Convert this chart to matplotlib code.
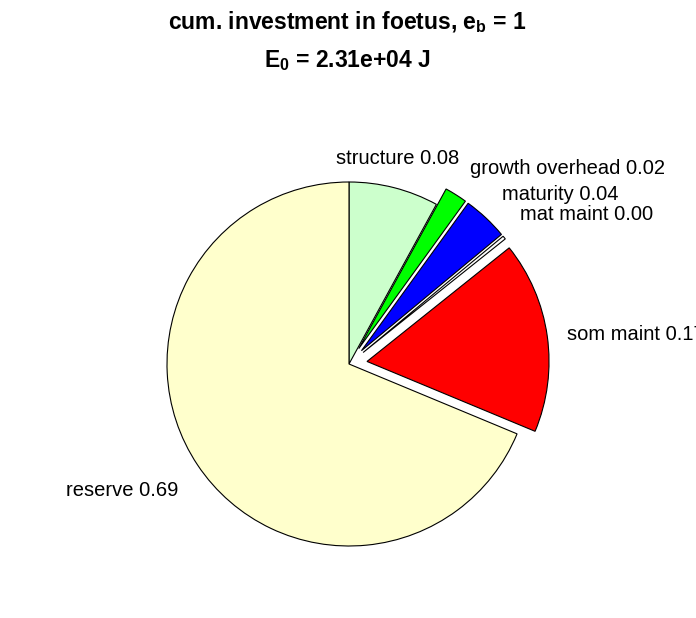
import matplotlib
matplotlib.use("Agg")
import matplotlib.pyplot as plt

# ---- data ----
names = ["structure", "growth overhead", "maturity", "mat maint", "som maint", "reserve"]
fractions = [0.0797, 0.0200, 0.0400, 0.0030, 0.1700, 0.6873]
title_line1 = r"cum. investment in foetus, e$_{\rm b}$ = 1"
title_line2 = r"E$_{\rm 0}$ = 2.31e+04 J"

# ---- styles / layout ----
colors = ["#CCFFCC", "#00FF00", "#0000FF", "#FFFFFF", "#FF0000", "#FFFFCC"]
explode = [0, 0.1, 0.1, 0.1, 0.1, 0]
# label anchor positions (pixels in figure) and alignment
label_px = [(398, 158), (567, 168), (560, 194), (587, 215), (567, 335), (122, 491)]
label_ha = ["center", "center", "center", "center", "left", "center"]

plt.rcParams["font.family"] = ["Liberation Sans", "DejaVu Sans"]
plt.rcParams["mathtext.fontset"] = "custom"
plt.rcParams["mathtext.rm"] = "Liberation Sans:bold"
plt.rcParams["mathtext.bf"] = "Liberation Sans:bold"

W, H = 696, 618
cx, cy, R = 349, 364, 182
fig = plt.figure(figsize=(W / 100, H / 100), dpi=100)
ax = fig.add_axes([0, 0, 1, 1])

ax.pie(fractions, colors=colors, explode=explode, startangle=90, counterclock=False,
       radius=1.0, center=(0, 0), frame=True,
       wedgeprops=dict(edgecolor="black", linewidth=0.8))
ax.set_xlim(-cx / R, (W - cx) / R)
ax.set_ylim(-(H - cy) / R, cy / R)
ax.set_aspect("auto")
ax.axis("off")

for name, val, (px, py), ha in zip(names, fractions, label_px, label_ha):
    ax.text((px - cx) / R, (cy - py) / R, f"{name} {val:.2f}", ha=ha, va="center",
            fontsize=14.5, color="black")

fig.text(347 / W, 1 - 22 / H, title_line1, ha="center", va="center",
         fontsize=16.5, fontweight="bold")
fig.text(347 / W, 1 - 61 / H, title_line2, ha="center", va="center",
         fontsize=16.5, fontweight="bold")

fig.savefig("out.png", dpi=100, facecolor="white")
